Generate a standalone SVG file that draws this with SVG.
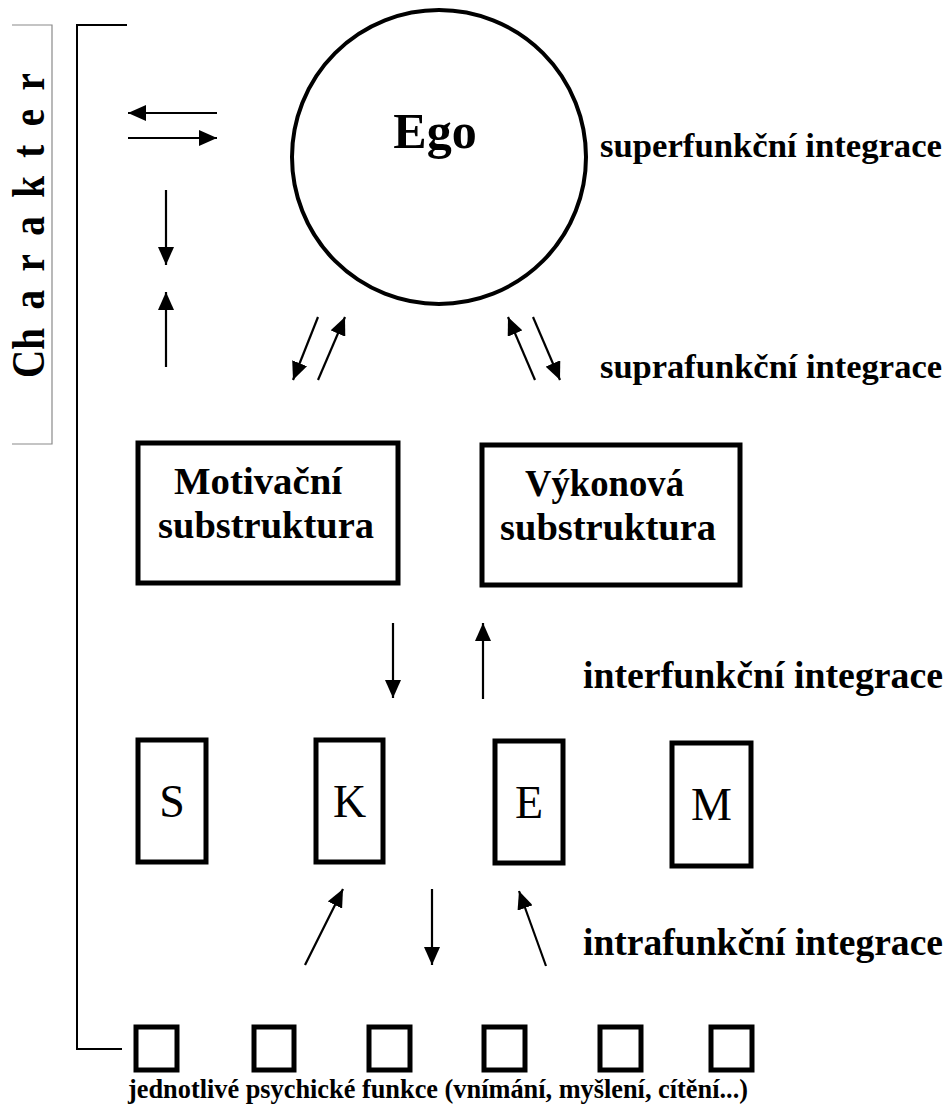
<svg xmlns="http://www.w3.org/2000/svg" width="952" height="1106" viewBox="0 0 952 1106">
<style>
.box{fill:#fff;stroke:#000;stroke-width:5}
.sq{fill:#fff;stroke:#000;stroke-width:5}
.lbl{font-family:"Liberation Serif",serif;font-weight:bold;fill:#000}
.reg{font-family:"Liberation Serif",serif;fill:#000}
.arr{stroke:#000;stroke-width:2.2;fill:none;marker-end:url(#ah)}
</style>
<defs>
<marker id="ah" markerUnits="userSpaceOnUse" markerWidth="18" markerHeight="16" refX="18" refY="8" orient="auto">
<path d="M0,0 L18,8 L0,16 z" fill="#000"/>
</marker>
</defs>
<rect width="952" height="1106" fill="#fff"/>

<g id="charakter">
<polyline points="12,25 52,25 52,444 12,444" fill="none" stroke="#8a8a8a" stroke-width="1.2"/>
<text class="lbl" font-size="46" letter-spacing="21.7" fill="#222" transform="translate(44,378) rotate(-90) scale(0.85,1)">C<tspan dx="-21.7">h</tspan>arakter</text>
</g>

<g id="bracket">
<polyline points="127,25 77,25 77,1049 122,1049" fill="none" stroke="#000" stroke-width="2"/>
</g>

<g id="ego">
<circle cx="439" cy="157" r="147" fill="#fff" stroke="#000" stroke-width="4"/>
<text class="lbl" x="435" y="148" font-size="50" text-anchor="middle">Ego</text>
</g>

<g id="motivacni">
<rect class="box" x="138" y="443" width="260" height="140"/>
<text class="lbl" x="174" y="494" font-size="38" textLength="168" lengthAdjust="spacingAndGlyphs">Motivační</text>
<text class="lbl" x="158" y="538" font-size="38" textLength="216" lengthAdjust="spacingAndGlyphs">substruktura</text>
</g>

<g id="vykonova">
<rect class="box" x="482" y="445" width="258" height="140"/>
<text class="lbl" x="525" y="496" font-size="38" textLength="159" lengthAdjust="spacingAndGlyphs">Výkonová</text>
<text class="lbl" x="500" y="540" font-size="38" textLength="216" lengthAdjust="spacingAndGlyphs">substruktura</text>
</g>

<g id="S"><rect class="box" x="138" y="740" width="68" height="122"/><text class="reg" x="172" y="817" font-size="46" text-anchor="middle">S</text></g>
<g id="K"><rect class="box" x="316" y="740" width="67" height="122"/><text class="reg" x="349.5" y="817" font-size="46" text-anchor="middle">K</text></g>
<g id="E"><rect class="box" x="495" y="741" width="68" height="122"/><text class="reg" x="529" y="818" font-size="46" text-anchor="middle">E</text></g>
<g id="M"><rect class="box" x="672" y="743" width="79" height="123"/><text class="reg" x="711.5" y="820" font-size="46" text-anchor="middle">M</text></g>

<g id="functions">
<rect class="sq" x="136" y="1027" width="41" height="43"/>
<rect class="sq" x="254" y="1027" width="40" height="43"/>
<rect class="sq" x="369" y="1027" width="41" height="43"/>
<rect class="sq" x="484" y="1027" width="41" height="43"/>
<rect class="sq" x="600" y="1027" width="41" height="43"/>
<rect class="sq" x="711" y="1027" width="41" height="43"/>
</g>

<g id="labels">
<text class="lbl" x="600" y="157" font-size="34" textLength="342" lengthAdjust="spacingAndGlyphs">superfunkční integrace</text>
<text class="lbl" x="600" y="378" font-size="34" textLength="342" lengthAdjust="spacingAndGlyphs">suprafunkční integrace</text>
<text class="lbl" x="583" y="688" font-size="37" textLength="360" lengthAdjust="spacingAndGlyphs">interfunkční integrace</text>
<text class="lbl" x="583" y="955" font-size="37" textLength="360" lengthAdjust="spacingAndGlyphs">intrafunkční integrace</text>
<text class="lbl" x="128" y="1098" font-size="27" textLength="620" lengthAdjust="spacingAndGlyphs">jednotlivé psychické funkce (vnímání, myšlení, cítění...)</text>
</g>

<g id="connectors">
<line class="arr" x1="217" y1="113" x2="128" y2="113"/>
<line class="arr" x1="128" y1="138" x2="217" y2="138"/>
<line class="arr" x1="166" y1="190" x2="166" y2="265"/>
<line class="arr" x1="166" y1="367" x2="166" y2="292"/>
<line class="arr" x1="318" y1="317" x2="293" y2="380"/>
<line class="arr" x1="318" y1="380" x2="345" y2="317"/>
<line class="arr" x1="535" y1="380" x2="508" y2="317"/>
<line class="arr" x1="533" y1="317" x2="560" y2="380"/>
<line class="arr" x1="393" y1="623" x2="393" y2="698"/>
<line class="arr" x1="483" y1="699" x2="483" y2="623"/>
<line class="arr" x1="305" y1="965" x2="343" y2="889"/>
<line class="arr" x1="432" y1="889" x2="432" y2="965"/>
<line class="arr" x1="546" y1="966" x2="519" y2="891"/>
</g>
</svg>
